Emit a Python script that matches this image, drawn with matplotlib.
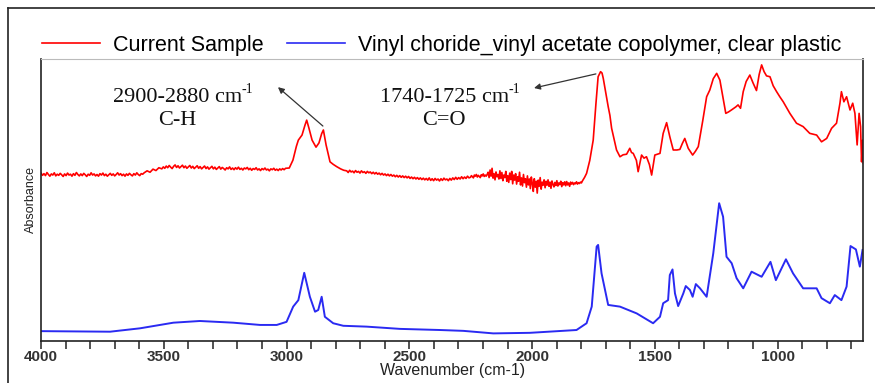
import numpy as np
import matplotlib
matplotlib.use("Agg")
import matplotlib.pyplot as plt
from matplotlib.lines import Line2D
from matplotlib.ticker import MultipleLocator

# ---------------- spectra (wavenumber in cm-1, absorbance in a.u.) ----------------
# Current sample: noisy baseline segments are sampled on a regular grid
red_seg1_start, red_seg1_step = 4000, 6
red_seg1_abs = [0.595, 0.587, 0.593, 0.586, 0.597, 0.590, 0.584, 0.592, 0.588, 0.596,
                0.585, 0.591, 0.587, 0.594, 0.589, 0.583, 0.592, 0.586, 0.595, 0.588,
                0.591, 0.584, 0.593, 0.587, 0.597, 0.590, 0.585, 0.592, 0.586, 0.594,
                0.589, 0.583, 0.591, 0.587, 0.596, 0.588, 0.592, 0.585, 0.590, 0.584,
                0.593, 0.588, 0.595, 0.586, 0.591, 0.584, 0.589, 0.594, 0.587, 0.592,
                0.585, 0.590, 0.596, 0.588, 0.593, 0.586, 0.591, 0.584, 0.592, 0.587,
                0.594, 0.589, 0.585, 0.593, 0.588, 0.596, 0.590, 0.586, 0.593, 0.591]

red_seg2_wn = [3580, 3568, 3556, 3544, 3532, 3520]
red_seg2_abs = [0.596, 0.603, 0.598, 0.609, 0.604, 0.614]

red_seg3_start, red_seg3_step = 3508, 6
red_seg3_abs = [0.610, 0.617, 0.612, 0.620, 0.614, 0.622, 0.616, 0.611, 0.619, 0.624,
                0.615, 0.621, 0.613, 0.618, 0.623, 0.614, 0.620, 0.612, 0.617, 0.622,
                0.613, 0.619, 0.611, 0.616, 0.621, 0.612, 0.618, 0.610, 0.615, 0.620,
                0.611, 0.617, 0.609, 0.614, 0.619, 0.610, 0.616, 0.608, 0.613, 0.618,
                0.609, 0.615, 0.611, 0.606, 0.614, 0.610, 0.617, 0.608, 0.613, 0.607,
                0.614, 0.609, 0.616, 0.608, 0.612, 0.606, 0.613, 0.610, 0.615, 0.607,
                0.612, 0.605, 0.611, 0.608, 0.614, 0.606, 0.610, 0.604, 0.611, 0.607,
                0.613, 0.606, 0.609, 0.603, 0.610, 0.607, 0.612, 0.605, 0.609, 0.604,
                0.610, 0.606, 0.611, 0.607, 0.612]

red_ch_wn = [2989, 2974, 2960, 2952, 2937, 2925, 2918, 2909, 2896, 2880, 2868, 2857,
             2850, 2839, 2823, 2810, 2796, 2780, 2767]
red_ch_abs = [0.613, 0.641, 0.690, 0.712, 0.730, 0.765, 0.783, 0.755, 0.712, 0.687,
              0.702, 0.735, 0.748, 0.695, 0.635, 0.626, 0.618, 0.610, 0.605]

red_seg4_start, red_seg4_step = 2755, 6
red_seg4_abs = [0.603, 0.597, 0.605, 0.599, 0.602, 0.596, 0.604, 0.598, 0.601, 0.595,
                0.603, 0.597, 0.600, 0.594, 0.601, 0.596, 0.599, 0.593, 0.598, 0.592,
                0.597, 0.591, 0.595, 0.589, 0.594, 0.588, 0.592, 0.586, 0.591, 0.585,
                0.590, 0.584, 0.588, 0.582, 0.587, 0.581, 0.586, 0.580, 0.585, 0.579,
                0.584, 0.578, 0.583, 0.576, 0.581, 0.575, 0.580, 0.574, 0.579, 0.573,
                0.578, 0.572, 0.577, 0.571, 0.576, 0.570, 0.578, 0.569, 0.575, 0.568,
                0.576, 0.570, 0.574, 0.567, 0.575, 0.569, 0.577, 0.571, 0.574, 0.568,
                0.576, 0.570, 0.578, 0.572, 0.580, 0.573, 0.579, 0.574, 0.582, 0.575,
                0.581, 0.576, 0.584, 0.578]

red_seg5_start, red_seg5_step = 2251, 4
red_seg5_abs = [0.580, 0.586, 0.582, 0.578, 0.588, 0.584, 0.590, 0.581, 0.587, 0.583,
                0.579, 0.589, 0.585, 0.592, 0.583, 0.588, 0.584, 0.590,
                0.598, 0.579, 0.606, 0.584, 0.612, 0.577, 0.593, 0.571, 0.599, 0.582,
                0.590, 0.574, 0.603, 0.576, 0.597, 0.568, 0.588, 0.579, 0.601, 0.566,
                0.586, 0.562, 0.595, 0.572, 0.601, 0.557, 0.588, 0.570, 0.593, 0.556,
                0.582, 0.566, 0.598, 0.553, 0.578, 0.549, 0.590, 0.561, 0.575, 0.545,
                0.585, 0.553, 0.574, 0.540, 0.581, 0.558, 0.530, 0.575, 0.545, 0.566,
                0.524, 0.570, 0.548, 0.579, 0.538, 0.563, 0.552, 0.571, 0.543, 0.566,
                0.552, 0.571, 0.548, 0.563, 0.541, 0.567, 0.555, 0.546, 0.562, 0.551,
                0.568, 0.549, 0.560, 0.554, 0.566, 0.547, 0.561, 0.553, 0.564, 0.550,
                0.565, 0.553, 0.560, 0.548, 0.563, 0.556, 0.562, 0.554, 0.560, 0.557,
                0.564, 0.556, 0.561, 0.558, 0.563, 0.560, 0.567]

red_fp_wn = [1786, 1778, 1765, 1751, 1740, 1731, 1721, 1715, 1710, 1700, 1690, 1683,
             1676, 1656, 1642, 1629, 1615, 1602, 1595, 1588, 1575, 1568, 1554, 1544,
             1534, 1522, 1513, 1500, 1490, 1479, 1466, 1452, 1439, 1425, 1410, 1398,
             1388, 1378, 1364, 1346, 1335, 1323, 1305, 1289, 1276, 1262, 1248, 1235,
             1222, 1211, 1200, 1188, 1170, 1161, 1151, 1140, 1128, 1113, 1100, 1086,
             1075, 1065, 1055, 1045, 1031, 1018, 1004, 991, 977, 950, 923, 896, 869,
             841, 821, 800, 780, 760, 746, 740, 730, 719, 705, 694, 685, 676, 668,
             662, 658, 654, 651]
red_fp_abs = [0.580, 0.594, 0.640, 0.712, 0.840, 0.937, 0.955, 0.950, 0.931, 0.880,
              0.831, 0.800, 0.754, 0.677, 0.653, 0.660, 0.662, 0.683, 0.668, 0.665,
              0.640, 0.600, 0.659, 0.648, 0.653, 0.625, 0.588, 0.659, 0.662, 0.665,
              0.736, 0.774, 0.724, 0.677, 0.677, 0.679, 0.700, 0.718, 0.683, 0.659,
              0.672, 0.689, 0.780, 0.866, 0.890, 0.930, 0.949, 0.925, 0.860, 0.807,
              0.812, 0.819, 0.830, 0.837, 0.825, 0.884, 0.920, 0.943, 0.915, 0.888,
              0.945, 0.979, 0.955, 0.940, 0.937, 0.905, 0.884, 0.866, 0.848, 0.807,
              0.772, 0.760, 0.736, 0.730, 0.706, 0.718, 0.754, 0.772, 0.843, 0.884,
              0.848, 0.866, 0.819, 0.843, 0.807, 0.695, 0.807, 0.760, 0.635, 0.712,
              0.630]

# Reference library spectrum: vinyl chloride / vinyl acetate copolymer
blue_wn = [4000, 3719, 3597, 3461, 3353, 3217, 3108, 3040, 3000, 2973, 2952, 2928,
           2905, 2884, 2871, 2857, 2844, 2810, 2769, 2674, 2538, 2375, 2280, 2158,
           2009, 1819, 1778, 1757, 1737, 1731, 1717, 1690, 1642, 1574, 1507, 1479,
           1466, 1446, 1439, 1428, 1418, 1405, 1384, 1374, 1357, 1346, 1333, 1316,
           1289, 1262, 1238, 1222, 1208, 1187, 1167, 1140, 1106, 1065, 1029, 1007,
           966, 937, 896, 841, 821, 787, 767, 740, 719, 703, 681, 665, 654]
blue_abs = [0.034, 0.032, 0.044, 0.064, 0.070, 0.064, 0.056, 0.056, 0.067, 0.121,
            0.144, 0.241, 0.156, 0.103, 0.109, 0.156, 0.085, 0.062, 0.053, 0.050,
            0.042, 0.038, 0.035, 0.026, 0.028, 0.038, 0.062, 0.121, 0.334, 0.340,
            0.239, 0.127, 0.121, 0.097, 0.062, 0.085, 0.133, 0.144, 0.233, 0.253,
            0.168, 0.123, 0.168, 0.194, 0.180, 0.156, 0.201, 0.186, 0.156, 0.310,
            0.488, 0.440, 0.298, 0.275, 0.222, 0.186, 0.245, 0.227, 0.280, 0.215,
            0.289, 0.239, 0.186, 0.186, 0.151, 0.133, 0.162, 0.144, 0.192, 0.336,
            0.324, 0.263, 0.322]

series_labels = ["Current Sample",
                 "Vinyl choride_vinyl acetate copolymer, clear plastic"]
x_ticks = [4000, 3500, 3000, 2500, 2000, 1500, 1000]


def grid_segment(start, step, values):
    wn = start - step * np.arange(len(values))
    return wn, np.asarray(values)


s1 = grid_segment(red_seg1_start, red_seg1_step, red_seg1_abs)
s3 = grid_segment(red_seg3_start, red_seg3_step, red_seg3_abs)
s4 = grid_segment(red_seg4_start, red_seg4_step, red_seg4_abs)
s5 = grid_segment(red_seg5_start, red_seg5_step, red_seg5_abs)
red_wn = np.concatenate([s1[0], red_seg2_wn, s3[0], red_ch_wn, s4[0], s5[0], red_fp_wn])
red_abs = np.concatenate([s1[1], red_seg2_abs, s3[1], red_ch_abs, s4[1], s5[1], red_fp_abs])

# ---------------- figure ----------------
plt.rcParams["font.family"] = ["Liberation Sans", "DejaVu Sans"]
fig = plt.figure(figsize=(8.75, 3.83), dpi=100)
ax = fig.add_axes([0.0469, 0.1104, 0.9397, 0.7356])

red_c = "#ff0000"
blue_c = "#2a2af2"
ax.plot(red_wn, red_abs, color=red_c, lw=1.2)
ax.plot(blue_wn, blue_abs, color=blue_c, lw=1.4)

ax.set_xlim(4000, 651)
ax.set_ylim(0, 1.0)
ax.set_xticks(x_ticks)
ax.xaxis.set_minor_locator(MultipleLocator(100))
ax.tick_params(axis="x", which="both", direction="out", length=5.5, width=1.1,
               color="#222222", pad=1.5, labelsize=11)
for lbl in ax.get_xticklabels():
    lbl.set_fontweight("bold")
    lbl.set_color("#333333")
ax.set_yticks([])

for side in ("left", "bottom", "right"):
    ax.spines[side].set_color("#222222")
    ax.spines[side].set_linewidth(1.2)
ax.spines["top"].set_color("#bbbbbb")
ax.spines["top"].set_linewidth(0.8)

ax.set_xlabel("Wavenumber (cm-1)", fontsize=11.5, color="#222222", labelpad=-1)
ax.set_ylabel("Absorbance", fontsize=9, color="#222222", labelpad=3)

# ---------------- annotations ----------------
serif = ["Liberation Serif", "DejaVu Serif"]


def band_label(x, y, text, group):
    t = ax.text(x, y, text, family=serif, fontsize=16, ha="center", va="center",
                color="#111111")
    ax.annotate("-1", xy=(1.0, 0.62), xycoords=t, family=serif, fontsize=10,
                ha="left", va="bottom", color="#111111")
    ax.text(x, y - 0.082, group, family=serif, fontsize=16, ha="center",
            va="center", color="#111111")


band_label(3445, 0.862, "2900-2880 cm", "C-H")
band_label(2358, 0.862, "1740-1725 cm", "C=O")

arrow_style = dict(arrowstyle="-|>", color="#333333", lw=0.9,
                   mutation_scale=9, shrinkA=0, shrinkB=0)
ax.annotate("", xy=(3035, 0.900), xytext=(2852, 0.762), arrowprops=arrow_style)
ax.annotate("", xy=(1992, 0.897), xytext=(1740, 0.947), arrowprops=arrow_style)

# ---------------- legend above the plot ----------------
handles = [Line2D([], [], color=red_c, lw=1.2), Line2D([], [], color=blue_c, lw=1.2)]
fig.legend(handles, series_labels, loc="center left",
           bbox_to_anchor=(42 / 875, 1 - 45 / 383), ncol=2, frameon=False,
           fontsize=15.5, handlelength=2.7, handletextpad=0.6, columnspacing=1.07,
           borderpad=0, borderaxespad=0)

# outer frame (left and top edges)
fig.add_artist(Line2D([8 / 875, 8 / 875], [0, 1 - 8 / 383], color="#222222", lw=1.2,
                      transform=fig.transFigure))
fig.add_artist(Line2D([8 / 875, 1], [1 - 8 / 383, 1 - 8 / 383], color="#222222", lw=1.2,
                      transform=fig.transFigure))

fig.savefig("out.png", dpi=100)
